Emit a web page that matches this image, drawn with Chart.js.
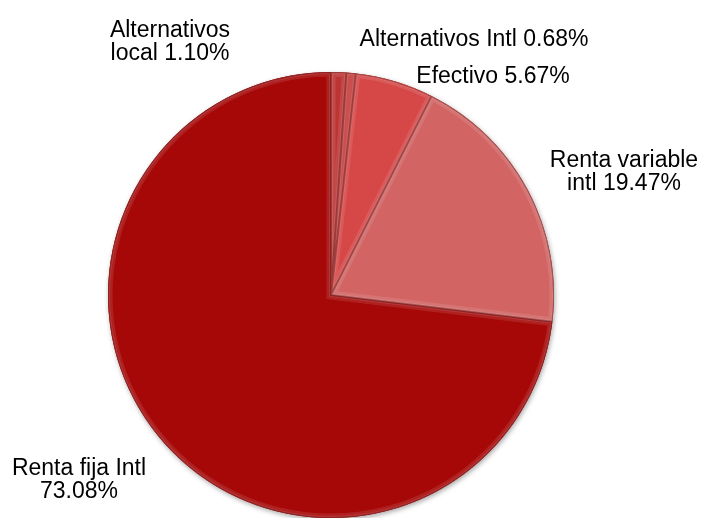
<!DOCTYPE html>
<html>
<head>
<meta charset="utf-8">
<script src="https://cdn.jsdelivr.net/npm/chart.js@4.4.1/dist/chart.umd.min.js"></script>
<style>
  html, body { margin: 0; padding: 0; background: #fff; }
  canvas { display: block; }
</style>
</head>
<body>
<canvas id="pie" width="703" height="518"></canvas>
<script>
// Portfolio split, clockwise from 12 o'clock
const categories = ["Alternativos local", "Alternativos Intl", "Efectivo", "Renta variable intl", "Renta fija Intl"];
const shares = [1.10, 0.68, 5.67, 19.47, 73.08];
const sliceColors = ["#bd3434", "#c53d3d", "#d64848", "#d26464", "#a60808"];

// Label placement: centre x, first baseline y, words on the first line
const labelLayout = [
  { x: 170, y: 37, split: 1 },
  { x: 474, y: 46, split: 0 },
  { x: 493, y: 83, split: 0 },
  { x: 624, y: 167, split: 2 },
  { x: 79, y: 475, split: 3 }
];

function labelLines(i) {
  const words = (categories[i] + " " + shares[i].toFixed(2) + "%").split(" ");
  const n = labelLayout[i].split;
  if (!n) return [words.join(" ")];
  return [words.slice(0, n).join(" "), words.slice(n).join(" ")];
}

// Soft drop shadow behind the whole pie
const pieShadow = {
  id: "pieShadow",
  beforeDatasetsDraw(chart) {
    const arc = chart.getDatasetMeta(0).data[0];
    const { x, y, outerRadius } = arc.getProps(["x", "y", "outerRadius"], true);
    const ctx = chart.ctx;
    ctx.save();
    ctx.shadowColor = "rgba(0,0,0,0.35)";
    ctx.shadowBlur = 5;
    ctx.shadowOffsetX = 1;
    ctx.shadowOffsetY = 2;
    ctx.fillStyle = "#a60808";
    ctx.beginPath();
    ctx.arc(x, y, outerRadius, 0, Math.PI * 2);
    ctx.fill();
    ctx.restore();
  }
};

// Bevelled edges on every slice: light inner rim, dark outer line
const bevel = {
  id: "bevel",
  afterDatasetsDraw(chart) {
    const ctx = chart.ctx;
    chart.getDatasetMeta(0).data.forEach(arc => {
      const p = arc.getProps(["x", "y", "startAngle", "endAngle", "outerRadius"], true);
      const path = () => {
        ctx.beginPath();
        ctx.moveTo(p.x, p.y);
        ctx.arc(p.x, p.y, p.outerRadius, p.startAngle, p.endAngle);
        ctx.closePath();
      };
      ctx.save();
      path();
      ctx.clip();
      path();
      ctx.lineJoin = "miter";
      ctx.lineWidth = 9;
      ctx.strokeStyle = "rgba(255,255,255,0.10)";
      ctx.stroke();
      ctx.lineWidth = 4;
      ctx.strokeStyle = "rgba(255,255,255,0.10)";
      ctx.stroke();
      ctx.lineWidth = 2;
      ctx.strokeStyle = "rgba(60,0,0,0.35)";
      ctx.stroke();
      ctx.restore();
    });
  }
};

// Outside labels with the percentage
const sliceLabels = {
  id: "sliceLabels",
  afterDraw(chart) {
    const ctx = chart.ctx;
    ctx.save();
    ctx.font = "23px 'Liberation Sans', Arial, sans-serif";
    ctx.fillStyle = "#000";
    ctx.textAlign = "center";
    ctx.textBaseline = "alphabetic";
    categories.forEach((c, i) => {
      const pos = labelLayout[i];
      labelLines(i).forEach((line, k) => {
        ctx.fillText(line, pos.x, pos.y + k * 22.5);
      });
    });
    ctx.restore();
  }
};

new Chart(document.getElementById("pie"), {
  type: "pie",
  data: {
    labels: categories,
    datasets: [{
      data: shares,
      backgroundColor: sliceColors,
      borderWidth: 0
    }]
  },
  options: {
    responsive: false,
    animation: false,
    devicePixelRatio: 1,
    layout: { padding: { left: 108, right: 149, top: 72, bottom: 0 } },
    plugins: {
      legend: { display: false },
      tooltip: { enabled: false }
    }
  },
  plugins: [pieShadow, bevel, sliceLabels]
});
</script>
</body>
</html>
